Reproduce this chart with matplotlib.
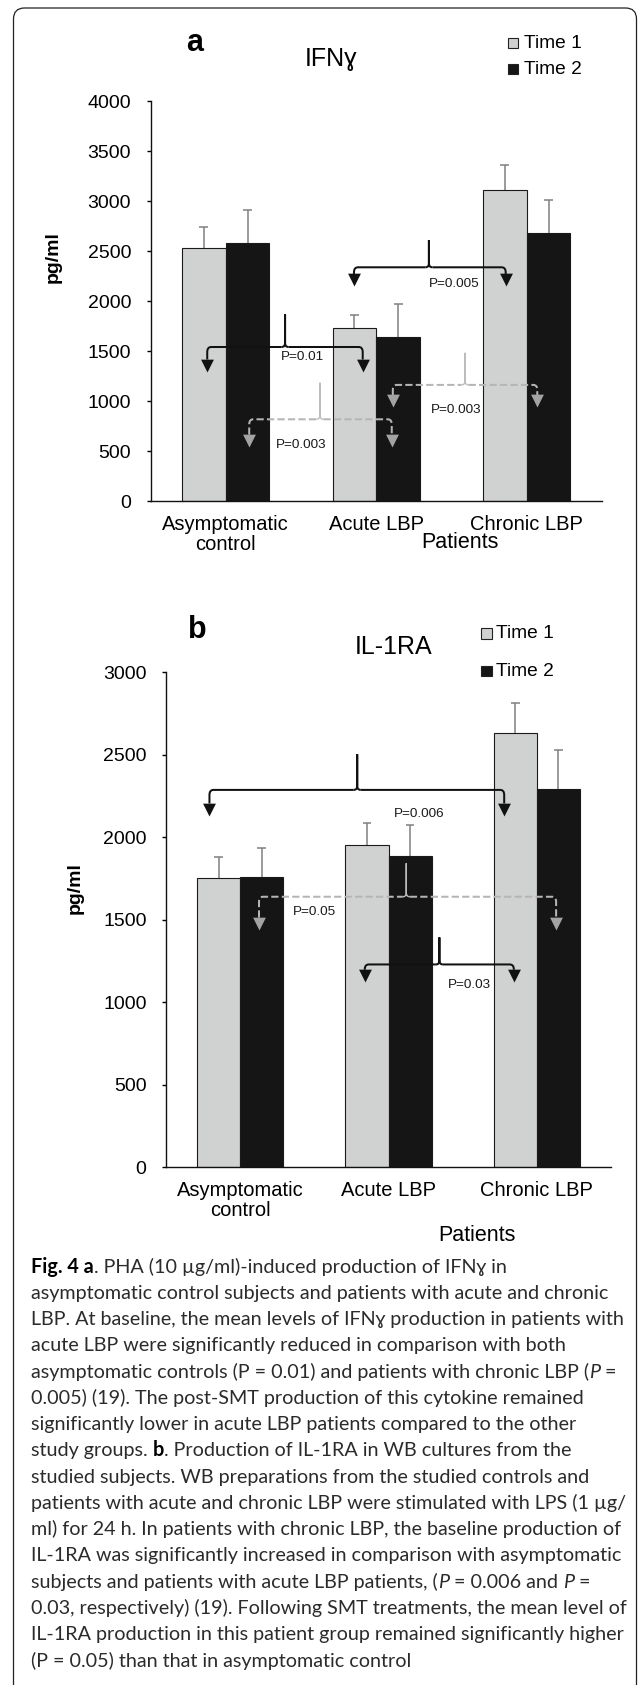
import matplotlib
matplotlib.use('Agg')
import matplotlib.pyplot as plt
from matplotlib.path import Path
from matplotlib.patches import PathPatch, FancyBboxPatch
from matplotlib.transforms import IdentityTransform
import numpy as np

W, H, DPI = 638, 1685, 100

# ---------------- data ----------------
categories = ['Asymptomatic\ncontrol', 'Acute LBP', 'Chronic LBP']
series = ['Time 1', 'Time 2']
series_colors = ['#d0d2d1', '#151515']

ifn_time1 = [2535, 1730, 3110]
ifn_time1_err = [205, 135, 252]
ifn_time2 = [2580, 1645, 2680]
ifn_time2_err = [332, 326, 332]

il_time1 = [1750, 1952, 2630]
il_time1_err = [128, 135, 183]
il_time2 = [1757, 1888, 2293]
il_time2_err = [175, 186, 234]

# comparisons: (x_left, x_right, x_brace, level, brace_top, arrow_tip, kind, label, label_x, label_y)
ifn_pairs = [
    (-0.123, 0.91, 0.394, 1540, 1868, 1295, 'solid', 'P=0.01', 0.51, 1440),
    (0.852, 1.86, 1.35, 2337, 2610, 2150, 'solid', 'P=0.005', 1.52, 2170),
    (0.156, 1.103, 0.626, 817, 1183, 543, 'dashed', 'P=0.003', 0.50, 564),
    (1.11, 2.07, 1.59, 1161, 1482, 939, 'dashed', 'P=0.003', 1.53, 914),
]
il_pairs = [
    (-0.207, 1.78, 0.789, 2286, 2502, 2131, 'solid', 'P=0.006', 1.206, 2143),
    (0.127, 2.13, 1.12, 1639, 1842, 1440, 'dashed', 'P=0.05', 0.50, 1547),
    (0.84, 1.845, 1.343, 1229, 1393, 1124, 'solid', 'P=0.03', 1.543, 1107),
]

caption_lines = [
    [('Fig. 4 a', 'b'), ('. PHA (10 µg/ml)-induced production of IFNɣ in', 'n')],
    [('asymptomatic control subjects and patients with acute and chronic', 'n')],
    [('LBP. At baseline, the mean levels of IFNɣ production in patients with', 'n')],
    [('acute LBP were significantly reduced in comparison with both', 'n')],
    [('asymptomatic controls (P = 0.01) and patients with chronic LBP (', 'n'), ('P', 'i'), (' =', 'n')],
    [('0.005) (19). The post-SMT production of this cytokine remained', 'n')],
    [('significantly lower in acute LBP patients compared to the other', 'n')],
    [('study groups. ', 'n'), ('b', 'b'), ('. Production of IL-1RA in WB cultures from the', 'n')],
    [('studied subjects. WB preparations from the studied controls and', 'n')],
    [('patients with acute and chronic LBP were stimulated with LPS (1 µg/', 'n')],
    [('ml) for 24 h. In patients with chronic LBP, the baseline production of', 'n')],
    [('IL-1RA was significantly increased in comparison with asymptomatic', 'n')],
    [('subjects and patients with acute LBP patients, (', 'n'), ('P', 'i'), (' = 0.006 and ', 'n'), ('P', 'i'), (' =', 'n')],
    [('0.03, respectively) (19). Following SMT treatments, the mean level of', 'n')],
    [('IL-1RA production in this patient group remained significantly higher', 'n')],
    [('(P = 0.05) than that in asymptomatic control', 'n')],
]

# ---------------- figure ----------------
CHART_FONT = ['Liberation Sans', 'DejaVu Sans']
CAP_FONT = ['Lato', 'DejaVu Sans']
plt.rcParams['font.family'] = CHART_FONT

fig = plt.figure(figsize=(W / DPI, H / DPI), dpi=DPI)
fig.patch.set_facecolor('white')


def fx(px):
    return px / W


def fy(py):
    return 1 - py / H


def make_axes(left, right, top, bottom):
    return fig.add_axes([fx(left), fy(bottom), (right - left) / W, (bottom - top) / H])


def bracket(ax, spec, ppx, ppy):
    x1, x2, xm, h, top, tip, kind, label, lx, ly = spec
    if kind == 'solid':
        lc, ac, ls, sc, slw = '#111111', '#111111', '-', '#111111', 1.45
    else:
        lc, ac, ls, sc, slw = '#b5b5b5', '#a3a3a3', (0, (3.6, 1.6)), '#bdbdbd', 1.0
    rx, ry = 4 * ppx, 5 * ppy
    bw, bd = 3.5 * ppx, 4 * ppy
    head = 12 * ppy
    left = Path([(x1, tip + head), (x1, h - ry), (x1, h), (x1 + rx, h), (xm - bw, h)],
                [Path.MOVETO, Path.LINETO, Path.CURVE3, Path.CURVE3, Path.LINETO])
    right = Path([(xm + bw, h), (x2 - rx, h), (x2, h), (x2, h - ry), (x2, tip + head)],
                 [Path.MOVETO, Path.LINETO, Path.CURVE3, Path.CURVE3, Path.LINETO])
    spike = Path([(xm - bw, h), (xm, h), (xm, h + bd), (xm, top),
                  (xm, h + bd), (xm, h), (xm + bw, h)],
                 [Path.MOVETO, Path.CURVE3, Path.CURVE3, Path.LINETO,
                  Path.LINETO, Path.CURVE3, Path.CURVE3])
    for p in (left, right):
        ax.add_patch(PathPatch(p, fill=False, edgecolor=lc, lw=1.45, linestyle=ls,
                               capstyle='butt', joinstyle='round', zorder=5))
    ax.add_patch(PathPatch(spike, fill=False, edgecolor=sc, lw=slw, linestyle='-',
                           capstyle='butt', joinstyle='miter', zorder=5))
    tri = Path([(-0.5, 1), (0.5, 1), (0, 0), (-0.5, 1)],
               [Path.MOVETO, Path.LINETO, Path.LINETO, Path.CLOSEPOLY])
    ax.plot([x1, x2], [tip, tip], linestyle='none', marker=tri, markersize=18.5,
            color=ac, markeredgewidth=0, zorder=6)
    ax.text(lx, ly, label, ha='center', va='center', fontsize=9.7, color='#1a1a1a', zorder=7)


def draw_panel(ax, t1, t1e, t2, t2e, ymax, pairs, axw_px, axh_px):
    x = np.arange(len(categories))
    bw = 0.29
    for i, (vals, errs) in enumerate([(t1, t1e), (t2, t2e)]):
        pos = x + (i - 0.5) * bw
        vals = np.asarray(vals, float)
        errs = np.asarray(errs, float)
        ax.vlines(pos, vals, vals + errs, color='#808080', lw=1.1, zorder=1)
        ax.hlines(vals + errs, pos - 0.03, pos + 0.03, color='#808080', lw=1.1, zorder=1)
        ax.bar(pos, vals, bw, color=series_colors[i], edgecolor='#1a1a1a',
               linewidth=0.8, zorder=2, label=series[i])
    ax.set_xlim(-0.5, 2.5)
    ax.set_ylim(0, ymax)
    ax.set_yticks(np.arange(0, ymax + 1, 500))
    ax.set_xticks(x)
    ax.set_xticklabels(categories, linespacing=1.05)
    for s in ['top', 'right']:
        ax.spines[s].set_visible(False)
    for s in ['left', 'bottom']:
        ax.spines[s].set_color('#111111')
        ax.spines[s].set_linewidth(1.0)
    ax.tick_params(axis='x', length=0, pad=10, labelsize=14.5)
    ax.tick_params(axis='y', length=3, width=1, pad=11, labelsize=14, direction='out')
    ppx = 3.0 / axw_px
    ppy = ymax / axh_px
    for spec in pairs:
        bracket(ax, spec, ppx, ppy)


def legend(px_sq, px_text, rows_py, size=13.8):
    for name, col, py in zip(series, series_colors, rows_py):
        s = 10.5
        fig.add_artist(plt.Rectangle((px_sq, H - py - s / 2), s, s, transform=IdentityTransform(),
                                     facecolor=col, edgecolor='#222222', lw=0.8))
        fig.text(fx(px_text), fy(py), name, fontsize=size, ha='left', va='center')


# Panel a
axa = make_axes(150.5, 602, 101, 501)
draw_panel(axa, ifn_time1, ifn_time1_err, ifn_time2, ifn_time2_err, 4000, ifn_pairs, 451.5, 400)
fig.text(fx(195), fy(43), 'a', fontsize=22, fontweight='bold', ha='center', va='center')
fig.text(fx(331), fy(59), 'IFNɣ', fontsize=18, ha='center', va='center', family=CHART_FONT)
legend(507.5, 523.5, [43, 69])
fig.text(fx(53), fy(257), 'pg/ml', fontsize=14, fontweight='bold', rotation=90, ha='center', va='center')
fig.text(fx(460), fy(543), 'Patients', fontsize=15.5, ha='center', va='center')

# Panel b
axb = make_axes(166, 611, 672, 1167.4)
draw_panel(axb, il_time1, il_time1_err, il_time2, il_time2_err, 3000, il_pairs, 445, 495.4)
fig.text(fx(197), fy(630), 'b', fontsize=22, fontweight='bold', ha='center', va='center')
fig.text(fx(394), fy(647), 'IL-1RA', fontsize=18, ha='center', va='center')
legend(481, 495.5, [633.5, 671])
fig.text(fx(75), fy(888), 'pg/ml', fontsize=14, fontweight='bold', rotation=90, ha='center', va='center')
fig.text(fx(477), fy(1235), 'Patients', fontsize=15.5, ha='center', va='center')

# ---------------- caption ----------------
renderer = fig.canvas.get_renderer()
STYLE = {'n': dict(fontweight='normal', fontstyle='normal', color='#2b2b2b'),
         'b': dict(fontweight='bold', fontstyle='normal', color='#000000'),
         'i': dict(fontweight='normal', fontstyle='italic', color='#2b2b2b')}


def run_width(s, st, size):
    kw = dict(fontsize=size, family=CAP_FONT, fontweight=STYLE[st]['fontweight'],
              fontstyle=STYLE[st]['fontstyle'])
    t1 = fig.text(0, 0, '|' + s + '|', **kw)
    t2 = fig.text(0, 0, '||', **kw)
    w = t1.get_window_extent(renderer).width - t2.get_window_extent(renderer).width
    t1.remove()
    t2.remove()
    return w


w10 = run_width(caption_lines[1][0][0], 'n', 10)
cap_size = 10 * 578.0 / w10

x0 = 31.0
base0 = 1272.5
lead = 26.27
for li, runs in enumerate(caption_lines):
    x = x0
    yb = base0 + li * lead
    for s, st in runs:
        fig.text(fx(x), fy(yb), s, fontsize=cap_size, family=CAP_FONT, va='baseline', ha='left',
                 **STYLE[st])
        x += run_width(s, st, cap_size)

# frame
fig.add_artist(FancyBboxPatch((13.5, -30), 623.0, H - 8 + 30, boxstyle='round,pad=0,rounding_size=11',
                              transform=IdentityTransform(), facecolor='none', edgecolor='#222222', lw=0.9))

fig.savefig('out.png', dpi=DPI, facecolor='white')
